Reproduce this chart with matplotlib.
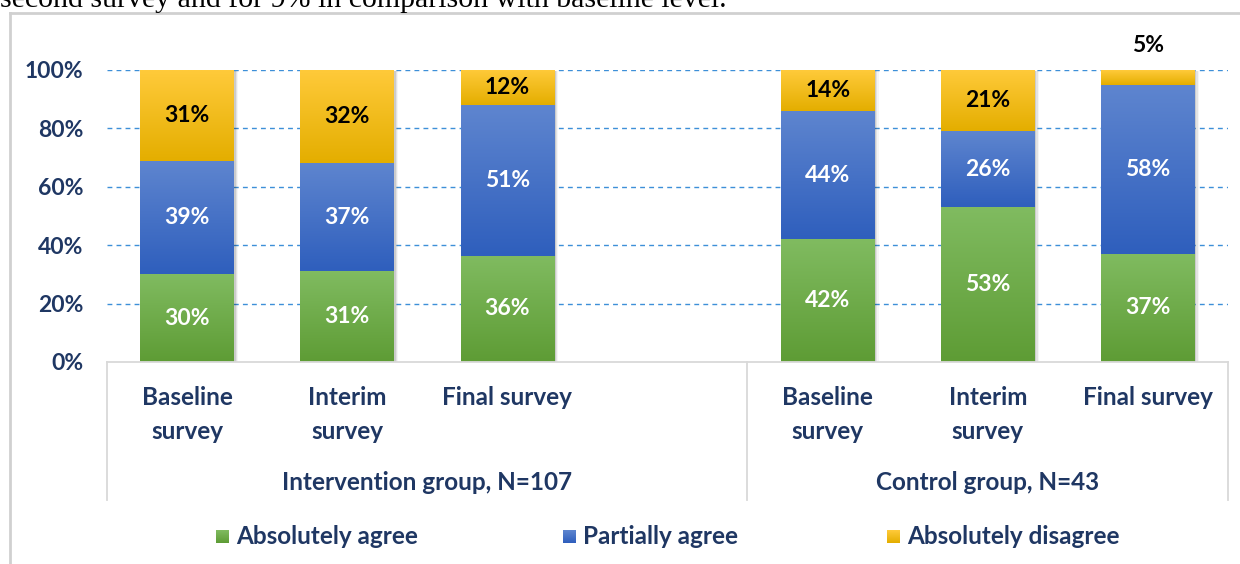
import numpy as np
import matplotlib
matplotlib.use('Agg')
import matplotlib.pyplot as plt
from matplotlib.colors import LinearSegmentedColormap
from matplotlib.patches import Rectangle
from matplotlib.lines import Line2D

## data
categories = ['Baseline\nsurvey', 'Interim\nsurvey', 'Final survey',
              'Baseline\nsurvey', 'Interim\nsurvey', 'Final survey']
positions = [0, 1, 2, 4, 5, 6]
groups = ['Intervention group, N=107', 'Control group, N=43']
series = ['Absolutely agree', 'Partially agree', 'Absolutely disagree']
agree = [30, 31, 36, 42, 53, 37]
partial = [39, 37, 51, 44, 26, 58]
disagree = [31, 32, 12, 14, 21, 5]
yticks = [0, 20, 40, 60, 80, 100]

# gradient colours (top, bottom)
grad = [('#80bb60', '#5e9c35'), ('#5e85cf', '#2f5fbd'), ('#ffca3a', '#e4ae00')]
txtcol = ['white', 'white', 'black']
navy = '#1f3763'
FONT = 'Lato'
FS = 17.5   # text size
NS = 16.5   # number size

W, H = 1240, 564
fig = plt.figure(figsize=(W / 100, H / 100), dpi=100)

def fx(px):
    return px / W

def fy(py):
    return 1 - py / H

# axes: x from 107 to 1228 px, y 0% at 362 px, 100% at 70 px
ax = fig.add_axes([fx(107), fy(362), fx(1228) - fx(107), fy(70) - fy(362)])
ax.set_xlim(-0.5, 6.5)
ax.set_ylim(0, 100)
for s in ax.spines.values():
    s.set_visible(False)
ax.set_xticks([])
ax.set_yticks(yticks)
ax.set_yticklabels([str(t) + '%' for t in yticks], fontsize=NS, fontweight='bold',
                   color=navy, family=FONT)
ax.tick_params(axis='y', length=0, pad=17)
for t in yticks[1:]:
    ax.axhline(t, color='#3d8fd8', lw=1.0, ls=(0, (3.5, 3)), zorder=0)

# 100% stacked
vals = np.array([agree, partial, disagree], dtype=float)
shares = vals / vals.sum(axis=0) * 100
bottoms = np.zeros(len(positions))
bw = 0.585
for k in range(3):
    bars = ax.bar(positions, shares[k], bw, bottom=bottoms, color=grad[k][1], zorder=3)
    cmap = LinearSegmentedColormap.from_list('g%d' % k, [grad[k][1], grad[k][0]])
    for i, b in enumerate(bars):
        x0, y0, w, h = b.get_x(), b.get_y(), b.get_width(), b.get_height()
        # soft shadow
        for j, a in enumerate([0.10, 0.07, 0.04]):
            ax.add_patch(Rectangle((x0 + 0.01 + 0.008 * j, y0 - 0.3), w, h, color='k', alpha=a,
                                   lw=0, zorder=1))
        img = np.linspace(0, 1, 64).reshape(-1, 1)
        ax.imshow(img, extent=[x0, x0 + w, y0, y0 + h], origin='lower', cmap=cmap,
                  aspect='auto', zorder=4, interpolation='bilinear')
        lab = '%d%%' % vals[k, i]
        if vals[k, i] < 8:
            ax.text(positions[i], 108.5, lab, ha='center', va='center', fontsize=NS,
                    fontweight='bold', color='black', family=FONT, zorder=6)
        else:
            ax.text(positions[i], y0 + h / 2, lab, ha='center', va='center', fontsize=NS,
                    fontweight='bold', color=txtcol[k], family=FONT, zorder=6)
    bottoms = bottoms + shares[k]
ax.set_xlim(-0.5, 6.5)
ax.set_ylim(0, 100)

# category axis box
lc = '#d9d9d9'
fig.add_artist(Line2D([fx(107), fx(1228)], [fy(362), fy(362)], color=lc, lw=1.3))
for xp in [107, 747, 1228]:
    fig.add_artist(Line2D([fx(xp), fx(xp)], [fy(362), fy(500)], color=lc, lw=1.3))

trans = ax.get_xaxis_transform()
for p, c in zip(positions, categories):
    ax.text(p, (362 - 386) / 292, c, transform=trans, ha='center', va='top', fontsize=FS,
            fontweight='bold', color=navy, family=FONT, linespacing=1.6)
ax.text(1.5, (362 - 482) / 292, groups[0], transform=trans, ha='center', va='center',
        fontsize=FS, fontweight='bold', color=navy, family=FONT)
ax.text(5.0, (362 - 482) / 292, groups[1], transform=trans, ha='center', va='center',
        fontsize=FS, fontweight='bold', color=navy, family=FONT)

# legend
leg_sq = [216, 563, 887]
for k in range(3):
    sq = fig.add_axes([fx(leg_sq[k]), fy(543), fx(13), 13 / H])
    sq.imshow(np.linspace(0, 1, 32).reshape(-1, 1), origin='lower', aspect='auto',
              cmap=LinearSegmentedColormap.from_list('l%d' % k, [grad[k][1], grad[k][0]]))
    sq.axis('off')
    fig.text(fx(leg_sq[k] + 20), fy(537), series[k], ha='left', va='center', fontsize=FS,
             fontweight='bold', color=navy, family=FONT)

# outer chart frame
fig.add_artist(Line2D([fx(10), fx(10)], [fy(13), 0], color='#d0d0d0', lw=2))
fig.add_artist(Line2D([fx(10), 1], [fy(13), fy(13)], color='#d0d0d0', lw=2))

# cut-off line of the surrounding document text
fig.text(0, fy(7), 'second survey and for 9% in comparison with baseline level.',
         ha='left', va='baseline', fontsize=21.5, family='Liberation Serif', color='black')

fig.savefig('out.png', dpi=100)
